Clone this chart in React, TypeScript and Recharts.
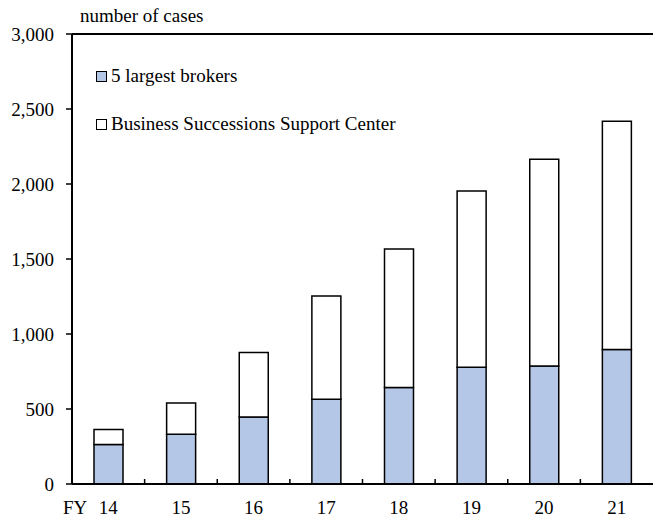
import React from 'react';
import { BarChart, Bar, XAxis, YAxis, Legend, ReferenceLine } from 'recharts';

const years = ['14', '15', '16', '17', '18', '19', '20', '21'];
const largestBrokers = [263, 331, 447, 565, 643, 778, 787, 896];
const supportCenter = [100, 209, 429, 688, 924, 1175, 1378, 1522];
const yTicks = [0, 500, 1000, 1500, 2000, 2500, 3000];

const data = years.map((year, i) => ({
  year,
  brokers: largestBrokers[i],
  center: supportCenter[i],
}));

const FONT = '"Liberation Serif", "Times New Roman", serif';
const FONT_SIZE = 19;
const X_TICK_MARGIN = 16;

// year label plus the small upward mark on the right edge of its band
const YearTick = (props: any) => {
  const { x, y, payload, width, visibleTicksCount } = props;
  const axisY = y - X_TICK_MARGIN;
  const halfBand = width && visibleTicksCount ? width / visibleTicksCount / 2 : 0;
  const isLast = payload.index === visibleTicksCount - 1;
  return (
    <g>
      {halfBand > 0 && !isLast && (
        <line x1={x + halfBand} x2={x + halfBand} y1={axisY} y2={axisY - 5} stroke="#000" strokeWidth={1.5} />
      )}
      <text x={x} y={y} dy={14} textAnchor="middle" fill="#000" fontSize={FONT_SIZE} fontFamily={FONT}>
        {payload.value}
      </text>
    </g>
  );
};

const renderLegend = (props: any) => {
  const items = props.payload || [];
  return (
    <div style={{ fontFamily: FONT, fontSize: FONT_SIZE, color: '#000' }}>
      {items.map((item: any) => (
        <div key={item.value} style={{ display: 'flex', alignItems: 'center', height: 24, marginBottom: 24 }}>
          <span
            style={{
              display: 'inline-block',
              width: 9,
              height: 9,
              background: item.payload.fill,
              border: '1px solid #000',
              marginRight: 4,
            }}
          />
          <span>{item.value}</span>
        </div>
      ))}
    </div>
  );
};

const App: React.FC = () => {
  return (
    <div style={{ position: 'relative', width: 653, height: 518, background: '#fff', fontFamily: FONT }}>
      <style>{'body{margin:0}'}</style>
      <div style={{ position: 'absolute', left: 80, top: 5, fontSize: FONT_SIZE, color: '#000' }}>number of cases</div>
      <div style={{ position: 'absolute', left: 63, top: 497, fontSize: FONT_SIZE, color: '#000' }}>FY</div>
      <BarChart
        width={653}
        height={518}
        data={data}
        barSize={29}
        margin={{ top: 34, right: 0, left: 10, bottom: 4 }}
      >
        <XAxis
          dataKey="year"
          height={30}
          axisLine={{ stroke: '#000', strokeWidth: 2 }}
          tickLine={false}
          tickSize={0}
          tickMargin={X_TICK_MARGIN}
          interval={0}
          tick={<YearTick />}
        />
        <YAxis
          width={62}
          domain={[0, 3000]}
          ticks={yTicks}
          interval={0}
          axisLine={{ stroke: '#000', strokeWidth: 2 }}
          tickLine={{ stroke: '#000', strokeWidth: 1.5 }}
          tickSize={6}
          tickMargin={12}
          tickFormatter={(v: number) => v.toLocaleString('en-US')}
          tick={{ fill: '#000', fontSize: FONT_SIZE, fontFamily: FONT }}
        />
        <ReferenceLine y={3000} stroke="#000" strokeWidth={2} />
        <Legend
          layout="vertical"
          align="center"
          verticalAlign="middle"
          content={renderLegend}
          wrapperStyle={{ top: 64, left: 96, width: 'auto' }}
        />
        <Bar
          dataKey="brokers"
          name="5 largest brokers"
          stackId="a"
          fill="#b4c7e7"
          stroke="#000"
          strokeWidth={1.5}
          isAnimationActive={false}
        />
        <Bar
          dataKey="center"
          name="Business Successions Support Center"
          stackId="a"
          fill="#ffffff"
          stroke="#000"
          strokeWidth={1.5}
          isAnimationActive={false}
        />
      </BarChart>
    </div>
  );
};

export default App;
